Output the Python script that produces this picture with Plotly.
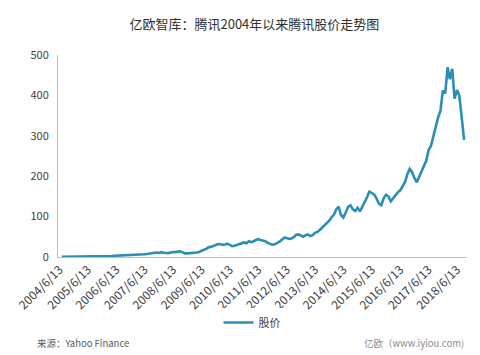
import pandas as pd
import plotly.graph_objects as go

# Monthly share price (split-adjusted, HKD), Jun 2004 .. Aug 2018
price = [
    # 2004 Jun-Dec
    0.8, 0.8, 0.8, 0.9, 0.9, 0.9, 0.9,
    # 2005
    1.0, 1.1, 1.2, 1.1, 1.0, 1.0, 1.2, 1.5, 1.6, 1.7, 1.8, 1.6,
    # 2006
    2.0, 2.5, 2.6, 3.0, 3.2, 3.2, 3.4, 3.6, 3.8, 3.8, 4.2, 5.5,
    # 2007
    6.0, 5.8, 5.6, 6.2, 6.8, 7.5, 8.5, 9.0, 10.5, 11.0, 10.0, 12.0,
    # 2008
    10.5, 10.0, 9.5, 11.0, 12.5, 12.0, 13.5, 14.0, 11.5, 9.0, 9.0, 9.5,
    # 2009
    9.0, 9.5, 11.0, 12.5, 16.0, 18.0, 20.0, 24.0, 25.0, 27.5, 29.0, 32.0,
    # 2010
    31.5, 30.0, 31.0, 33.0, 30.0, 27.0, 28.0, 30.0, 33.0, 34.5, 36.0, 34.0,
    # 2011
    39.0, 37.0, 38.5, 42.0, 44.0, 42.0, 41.0, 39.0, 35.0, 33.0, 30.5, 31.5,
    # 2012
    34.0, 38.0, 43.0, 48.0, 47.0, 45.0, 46.0, 49.0, 55.0, 56.0, 53.0, 50.0,
    # 2013
    54.0, 56.0, 52.0, 54.0, 60.0, 62.0, 67.0, 73.0, 80.0, 85.0, 90.0, 99.0,
    # 2014
    105, 118, 125, 104, 98, 110, 124, 128, 118, 114, 122, 113,
    # 2015
    125, 133, 148, 162, 158, 155, 145, 132, 128, 145, 154, 150,
    # 2016
    138, 145, 155, 160, 165, 175, 185, 205, 218, 210, 195, 185,
    # 2017
    200, 215, 225, 238, 265, 275, 300, 325, 345, 362, 412, 405,
    # 2018 Jan-Aug
    470, 440, 466, 392, 413, 400, 345, 290,
]
dates = pd.date_range("2004-06-13", periods=len(price), freq="MS") + pd.Timedelta(days=12)

tick_labels = [f"{y}/6/13" for y in range(2004, 2019)]
tick_vals = [f"{y}-06-13" for y in range(2004, 2019)]
y_ticks = [0, 100, 200, 300, 400, 500]

font = "Noto Sans CJK SC, Microsoft YaHei, sans-serif"

L, R, T, B = 58, 13, 55, 98
pw = 480 - L - R
ph = 355 - T - B

def px(x):
    return (x - L) / pw

def py(y):
    return (355 - B - y) / ph

fig = go.Figure()
fig.add_trace(go.Scatter(
    x=dates, y=price, mode="lines", name="股价",
    line=dict(color="#2a8fb4", width=2.6),
))

fig.update_layout(
    width=480, height=355,
    margin=dict(l=L, r=R, t=T, b=B),
    paper_bgcolor="white", plot_bgcolor="white",
    font=dict(family=font, size=11, color="#404040"),
    title=dict(text="亿欧智库：腾讯2004年以来腾讯股价走势图", x=0.53, xanchor="center",
               y=0.93, yanchor="middle", font=dict(size=13, color="#303030", family=font)),
    showlegend=True,
    legend=dict(orientation="h", x=px(252), xanchor="center", y=py(308), yanchor="top",
                font=dict(size=11, color="#404040"), itemwidth=30),
    xaxis=dict(type="date", range=["2004-05-25", "2018-10-20"],
               tickmode="array", tickvals=tick_vals, ticktext=tick_labels,
               tickangle=-45, showgrid=False, showline=True, linecolor="#bfbfbf",
               linewidth=1, ticks="", tickfont=dict(size=12, color="#404040")),
    yaxis=dict(range=[0, 500], tickmode="array", tickvals=y_ticks,
               showgrid=False, showline=True, linecolor="#bfbfbf", linewidth=1,
               ticks="", zeroline=False, ticklabelstandoff=6,
               tickfont=dict(size=11, color="#404040")),
    annotations=[
        dict(text="来源：Yahoo Finance", x=px(35), y=py(343), xref="paper", yref="paper",
             showarrow=False, xanchor="left", yanchor="middle",
             font=dict(size=9.5, color="#595959")),
        dict(text="亿欧（www.iyiou.com)", x=px(466), y=py(343), xref="paper", yref="paper",
             showarrow=False, xanchor="right", yanchor="middle",
             font=dict(size=9.5, color="#8c8c8c")),
    ],
)

fig.write_html("out.html")
